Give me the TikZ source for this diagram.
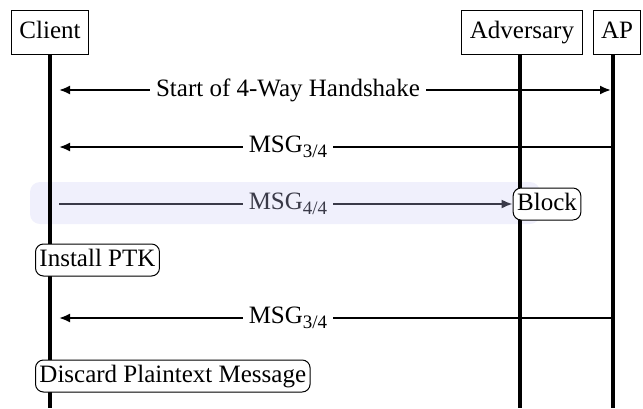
\documentclass[tikz,border=0pt]{standalone}
\usepackage{fontspec}
\setmainfont{Liberation Serif}
\usetikzlibrary{arrows.meta,positioning}
\definecolor{bandc}{HTML}{F0F0FC}
\definecolor{msgc}{HTML}{3A3A48}
\newcommand{\msgsub}[1]{MSG\raisebox{-0.45ex}{\fontsize{9.5}{10}\selectfont #1}}
\tikzset{
  actor/.style={draw, line width=0.5pt, fill=white, minimum height=22pt, text height=9pt, text depth=3pt, inner xsep=4pt, inner ysep=3pt, font=\fontsize{12.5}{14}\selectfont},
  lifeline/.style={line width=2pt},
  msg/.style={line width=1pt, -{Latex[length=5.5pt,width=4.5pt]}},
  bmsg/.style={line width=1pt, {Latex[length=5.5pt,width=4.5pt]}-{Latex[length=5.5pt,width=4.5pt]}},
  lbl/.style={fill=white, inner xsep=3pt, inner ysep=2pt, font=\fontsize{12.5}{14}\selectfont},
  act/.style={draw, line width=0.5pt, fill=white, rounded corners=4pt, inner xsep=2pt, inner ysep=2pt, text height=9pt, text depth=3pt, minimum height=15pt, font=\fontsize{12.5}{14}\selectfont},
}
\begin{document}
\begin{tikzpicture}[x=0.5pt,y=-0.5pt]
\useasboundingbox (0,0) rectangle (643,408);
% band
\fill[bandc, rounded corners=5pt] (30,182) rectangle (540,224);
% lifelines
\coordinate (cl) at (50,408);
\coordinate (al) at (520,408);
\coordinate (pl) at (613,408);
\node[actor] (client) at (50,32) {Client};
\node[actor] (adv) at (522,32) {Adversary};
\node[actor] (ap) at (617,32) {AP};
\draw[lifeline] (client.south -| cl) -- (cl);
\draw[lifeline] (adv.south -| al) -- (al);
\draw[lifeline] (ap.south -| pl) -- (pl);
% message 1
\coordinate (m1a) at (59,90);
\coordinate (m1b) at (611,90);
\draw[bmsg] (m1a) -- (m1b);
\node[lbl] (l1) at (288,90) {Start of 4-Way Handshake};
% message 2
\coordinate (m2a) at (613,147);
\coordinate (m2b) at (59,147);
\draw[msg] (m2a) -- (m2b);
\node[lbl] (l2) at (288,147) {\msgsub{3/4}};
% message 3
\node[act] (block) at (547,204) {Block};
\coordinate (m3a) at (59,204);
\draw[msg, msgc] (m3a) -- (block.west);
\node[lbl, fill=bandc, text=msgc] (l3) at (288,204) {\msgsub{4/4}};
% install
\node[act, anchor=west] (inst) at (35,260) {Install PTK};
% message 4
\coordinate (m4a) at (613,318);
\coordinate (m4b) at (59,318);
\draw[msg] (m4a) -- (m4b);
\node[lbl] (l4) at (288,318) {\msgsub{3/4}};
% discard
\node[act, anchor=west] (disc) at (35,376) {Discard Plaintext Message};
\end{tikzpicture}
\end{document}
